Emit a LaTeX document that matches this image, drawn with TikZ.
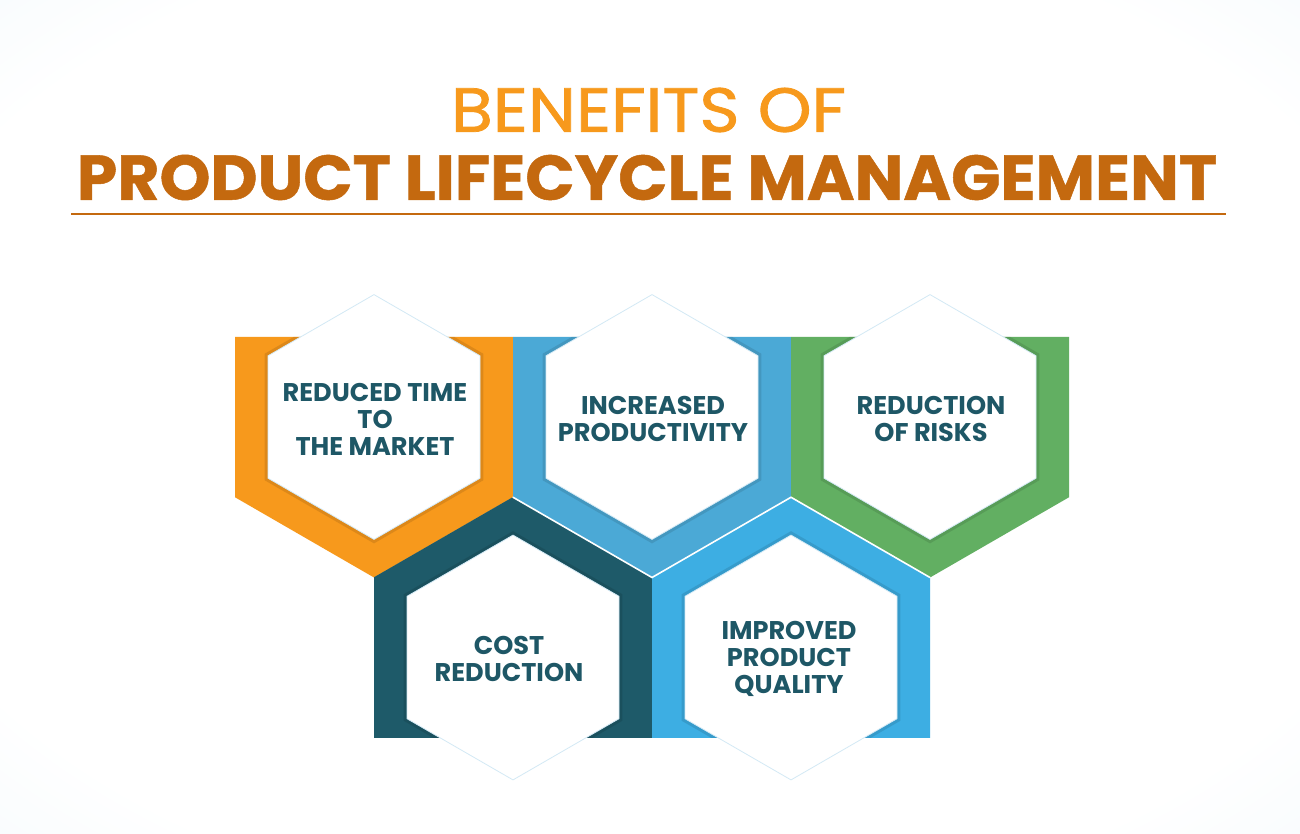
\documentclass[tikz,border=0pt]{standalone}
\usepackage{fontspec}
\setmainfont{Poppins}
\newfontfamily\pop{Poppins}
\newfontfamily\popmed{Poppins}[FakeBold=1.2]
\newfontfamily\popheavy{Poppins}[BoldFeatures={FakeBold=0.8}]
\usetikzlibrary{calc}
\definecolor{cOr}{HTML}{F7991C}
\definecolor{cMid}{HTML}{4BA9D6}
\definecolor{cGr}{HTML}{62AF62}
\definecolor{cTeal}{HTML}{1E5A69}
\definecolor{cBlue}{HTML}{3DAEE3}
\definecolor{txt}{HTML}{1E5766}
\definecolor{titleor}{HTML}{F7991C}
\definecolor{titlebr}{HTML}{C4690F}
\definecolor{hexline}{HTML}{D3E9F5}
\definecolor{bgA}{HTML}{E9F4FA}
\definecolor{bgB}{HTML}{D9EDF7}
\pgfdeclareradialshading{bgshade}{\pgfpoint{0bp}{0bp}}{color(0bp)=(white); color(30bp)=(white); color(50bp)=(bgA); color(72bp)=(bgB)}
\tikzset{
  lab/.style={text=txt, font=\pop\bfseries\fontsize{25.6}{27}\selectfont, align=center, inner sep=0pt},
  sep/.style={white, line width=1.6pt, line cap=round}
}
\newcommand\Ro{160.5}
\newcommand\Ri{122.4}
\newcommand\TopFrame[2]{%
  \begin{scope}[shift={#1}]
    \fill[#2] (-150:\Ro)--(-30:\Ro)--(30:\Ro)--(90:\Ro)--(150:\Ro)--cycle;
    \begin{scope}
      \clip (-150:\Ro)--(-30:\Ro)--(30:\Ro)--(90:\Ro)--(150:\Ro)--cycle;
      \fill[#2!70!black, opacity=0.35] (30:\Ri+4)--(90:\Ri+4)--(150:\Ri+4)--(210:\Ri+4)--(270:\Ri+4)--(330:\Ri+4)--cycle;
    \end{scope}
    \fill[white, draw=hexline, line width=0.8pt] (30:\Ri)--(90:\Ri)--(150:\Ri)--(210:\Ri)--(270:\Ri)--(330:\Ri)--cycle;
  \end{scope}}
\newcommand\BotFrame[2]{%
  \begin{scope}[shift={#1}]
    \fill[#2] (150:\Ro)--(-150:\Ro)--(-90:\Ro)--(-30:\Ro)--(30:\Ro)--cycle;
    \begin{scope}
      \clip (150:\Ro)--(-150:\Ro)--(-90:\Ro)--(-30:\Ro)--(30:\Ro)--cycle;
      \fill[#2!70!black, opacity=0.35] (30:\Ri+4)--(90:\Ri+4)--(150:\Ri+4)--(210:\Ri+4)--(270:\Ri+4)--(330:\Ri+4)--cycle;
    \end{scope}
    \fill[white, draw=hexline, line width=0.8pt] (30:\Ri)--(90:\Ri)--(150:\Ri)--(210:\Ri)--(270:\Ri)--(330:\Ri)--cycle;
  \end{scope}}
\begin{document}
\begin{tikzpicture}[x=1pt,y=-1pt]
\shade[shading=bgshade] (0,0) rectangle (1300,834);
\useasboundingbox (0,0) rectangle (1300,834);

% title
\node[inner sep=0pt] (t1) at (648.5,110) {\color{titleor}\resizebox{395pt}{44pt}{\popmed BENEFITS OF}};
\node[inner sep=0pt] (t2) at (647,177.5) {\color{titlebr}\resizebox{1140pt}{45pt}{\popheavy\bfseries PRODUCT LIFECYCLE MANAGEMENT}};
\draw[titlebr, line width=2.5pt] (71,214) -- (1226,214);

% hexagon frames
\TopFrame{(374,417)}{cOr}
\TopFrame{(652,417)}{cMid}
\TopFrame{(930,417)}{cGr}
\BotFrame{(513,657.5)}{cTeal}
\BotFrame{(791,657.5)}{cBlue}

% separators
\draw[sep] (513,497.25) -- (652,577.5) -- (791,497.25);
\draw[sep] (791,497.25) -- (930,577.5);

% labels
\node[lab] (l1) at (375,419) {REDUCED TIME\\TO\\THE MARKET};
\node[lab] (l2) at (653,418.5) {INCREASED\\PRODUCTIVITY};
\node[lab] (l3) at (931,418.5) {REDUCTION\\OF RISKS};
\node[lab] (l4) at (509,658.5) {COST\\REDUCTION};
\node[lab] (l5) at (789,659) {IMPROVED\\PRODUCT\\QUALITY};
\end{tikzpicture}
\end{document}
